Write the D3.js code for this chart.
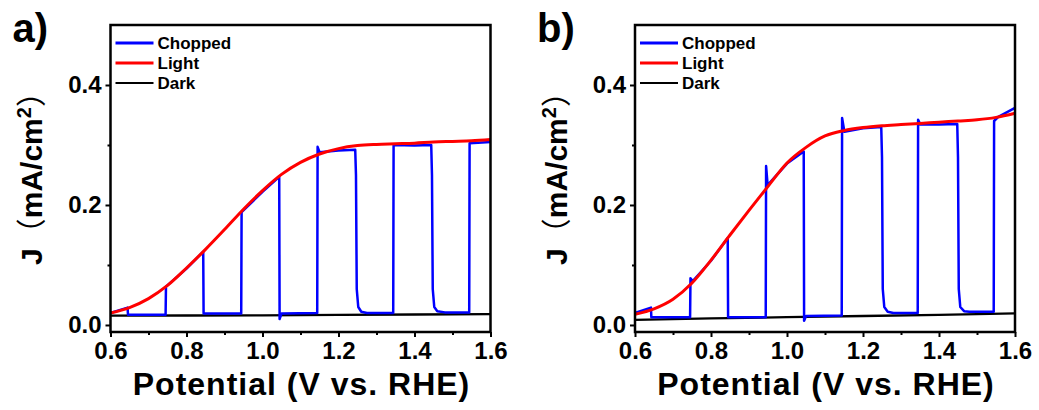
<!DOCTYPE html>
<html>
  <head>
    <meta charset="utf-8">
    <title>Chopped light J-V</title>
    <script src="https://cdn.jsdelivr.net/npm/d3@7"></script>
    <style>
      body { margin: 0; background: #fff; }
      svg text { font-family: "Liberation Sans", Arial, sans-serif; font-weight: bold; fill: #000; }
    </style>
  </head>
  <body>
    <svg id="chart" width="1039" height="410"></svg>

    <script>
      // data
      potential = [0.6, 0.65, 0.7, 0.75, 0.8, 0.85, 0.9, 0.95, 1.0, 1.05, 1.1,
                   1.15, 1.2, 1.25, 1.3, 1.35, 1.4, 1.45, 1.5, 1.55, 1.6];

      lightA = [0.020, 0.029, 0.044, 0.066, 0.095, 0.126, 0.159, 0.193, 0.224, 0.251, 0.271,
                0.285, 0.294, 0.299, 0.301, 0.302, 0.303, 0.305, 0.306, 0.307, 0.309];
      lightB = [0.018, 0.027, 0.043, 0.070, 0.108, 0.150, 0.191, 0.231, 0.270, 0.296, 0.315,
                0.324, 0.329, 0.332, 0.334, 0.336, 0.338, 0.340, 0.342, 0.346, 0.353];

      darkPotential = [0.6, 0.8, 1.0, 1.2, 1.4, 1.6];
      darkA = [0.0155, 0.0158, 0.016, 0.0168, 0.0175, 0.018];
      darkB = [0.0085, 0.011, 0.013, 0.015, 0.017, 0.0195];

      // chopped scans as [potential, J] points (light on/off every 0.1 V)
      choppedA = [[0.6, 0.020], [0.645, 0.029], [0.646, 0.017], [0.745, 0.017], [0.746, 0.064],
                  [0.8, 0.094], [0.844, 0.122], [0.845, 0.019], [0.944, 0.019], [0.945, 0.188],
                  [1.0, 0.222], [1.044, 0.247], [1.045, 0.010], [1.05, 0.019], [1.144, 0.020],
                  [1.145, 0.297], [1.15, 0.288], [1.2, 0.291], [1.244, 0.292], [1.246, 0.25],
                  [1.248, 0.06], [1.252, 0.030], [1.26, 0.022], [1.275, 0.020], [1.344, 0.020],
                  [1.345, 0.300], [1.4, 0.299], [1.444, 0.300], [1.446, 0.25], [1.448, 0.06],
                  [1.452, 0.030], [1.46, 0.023], [1.48, 0.021], [1.544, 0.021], [1.545, 0.303],
                  [1.6, 0.305]];
      choppedB = [[0.6, 0.020], [0.642, 0.029], [0.643, 0.013], [0.745, 0.013], [0.746, 0.078],
                  [0.752, 0.073], [0.8, 0.107], [0.844, 0.145], [0.845, 0.013], [0.944, 0.013],
                  [0.945, 0.265], [0.949, 0.233], [1.0, 0.269], [1.044, 0.289], [1.045, 0.007],
                  [1.05, 0.015], [1.144, 0.016], [1.145, 0.345], [1.151, 0.322], [1.2, 0.328],
                  [1.248, 0.330], [1.25, 0.28], [1.252, 0.06], [1.256, 0.030], [1.265, 0.022],
                  [1.28, 0.020], [1.344, 0.020], [1.345, 0.342], [1.351, 0.334], [1.4, 0.334],
                  [1.448, 0.335], [1.45, 0.28], [1.452, 0.06], [1.456, 0.03], [1.466, 0.023],
                  [1.48, 0.022], [1.544, 0.022], [1.545, 0.34], [1.556, 0.347], [1.6, 0.362]];

      xTicks = [0.6, 0.8, 1.0, 1.2, 1.4, 1.6];
      xMinor = [0.7, 0.9, 1.1, 1.3, 1.5];
      yTicks = [0.0, 0.2, 0.4];
      yMinor = [0.1, 0.3];
      legendNames = ["Chopped", "Light", "Dark"];
      colors = ["#0000ff", "#ff0000", "#000000"];

      chart = d3.select("#chart");

      drawPanel("a)", 110.5, lightA, darkA, choppedA);
      drawPanel("b)", 635, lightB, darkB, choppedB);

      function drawPanel(label, left, light, dark, chopped) {
        const width = 380;
        const plotTop = 25;
        const plotBottom = 332;

        const x = d3.scaleLinear().domain([0.6, 1.6]).range([left, left + width]);
        const y = d3.scaleLinear().domain([-0.0117, 0.5]).range([plotBottom, plotTop]);

        const g = chart.append("g");

        // minor ticks
        g.append("g")
            .attr("transform", "translate(0," + plotBottom + ")")
            .call(d3.axisBottom(x).tickValues(xMinor).tickSize(3).tickFormat(""))
            .call(a => a.select(".domain").remove());
        g.append("g")
            .attr("transform", "translate(" + left + ",0)")
            .call(d3.axisLeft(y).tickValues(yMinor).tickSize(3).tickFormat(""))
            .call(a => a.select(".domain").remove());

        // major ticks
        const xAxis = g.append("g")
            .attr("transform", "translate(0," + plotBottom + ")")
            .call(d3.axisBottom(x).tickValues(xTicks).tickSize(5).tickPadding(5).tickFormat(d3.format(".1f")));
        const yAxis = g.append("g")
            .attr("transform", "translate(" + left + ",0)")
            .call(d3.axisLeft(y).tickValues(yTicks).tickSize(5).tickPadding(4).tickFormat(d3.format(".1f")));
        [xAxis, yAxis].forEach(a => {
          a.select(".domain").remove();
          a.selectAll("text").style("font-size", "24px").style("font-family", "Liberation Sans, Arial, sans-serif").style("font-weight", "bold");
        });
        g.selectAll(".tick line").attr("stroke", "#000").attr("stroke-width", 2);

        // curves
        const lightLine = d3.line().x((d, i) => x(potential[i])).y(d => y(d)).curve(d3.curveMonotoneX);
        const darkLine = d3.line().x((d, i) => x(darkPotential[i])).y(d => y(d));
        const chopLine = d3.line().x(d => x(d[0])).y(d => y(d[1]));

        g.append("path").attr("d", darkLine(dark))
            .attr("fill", "none").attr("stroke", colors[2]).attr("stroke-width", 2.3);
        g.append("path").attr("d", chopLine(chopped))
            .attr("fill", "none").attr("stroke", colors[0]).attr("stroke-width", 2.5)
            .attr("stroke-linejoin", "round");
        g.append("path").attr("d", lightLine(light))
            .attr("fill", "none").attr("stroke", colors[1]).attr("stroke-width", 3);

        // frame
        g.append("rect")
            .attr("x", left).attr("y", plotTop)
            .attr("width", width).attr("height", plotBottom - plotTop)
            .attr("fill", "none").attr("stroke", "#000").attr("stroke-width", 2.5);

        // legend
        const legend = g.append("g");
        legendNames.forEach((name, i) => {
          const ly = 43 + i * 20;
          legend.append("line")
              .attr("x1", left + 5).attr("x2", left + 43)
              .attr("y1", ly).attr("y2", ly)
              .attr("stroke", colors[i]).attr("stroke-width", i == 2 ? 2 : 3);
          legend.append("text")
              .attr("x", left + 47).attr("y", ly + 6)
              .style("font-size", "17px")
              .text(name);
        });

        // axis titles
        g.append("text")
            .attr("x", left + width / 2 + 1)
            .attr("y", 395)
            .attr("text-anchor", "middle")
            .style("font-size", "32px")
            .style("letter-spacing", "1px")
            .text("Potential (V vs. RHE)");

        const yTitle = g.append("text")
            .attr("transform", "translate(" + (left - 68.5) + ",171) rotate(-90)")
            .attr("text-anchor", "middle")
            .style("font-size", "30px");
        yTitle.append("tspan").text("J");
        yTitle.append("tspan").style("font-weight", "normal").style("font-family", "Noto Sans CJK SC").text("（");
        yTitle.append("tspan").text("mA/cm");
        yTitle.append("tspan").attr("dy", -11).style("font-size", "20px").text("2");
        yTitle.append("tspan").attr("dy", 11).style("font-weight", "normal").style("font-family", "Noto Sans CJK SC").text("）");

        // panel label
        g.append("text")
            .attr("x", left - 98)
            .attr("y", 42)
            .style("font-size", "40px")
            .text(label);
      }
    </script>
  </body>
</html>
